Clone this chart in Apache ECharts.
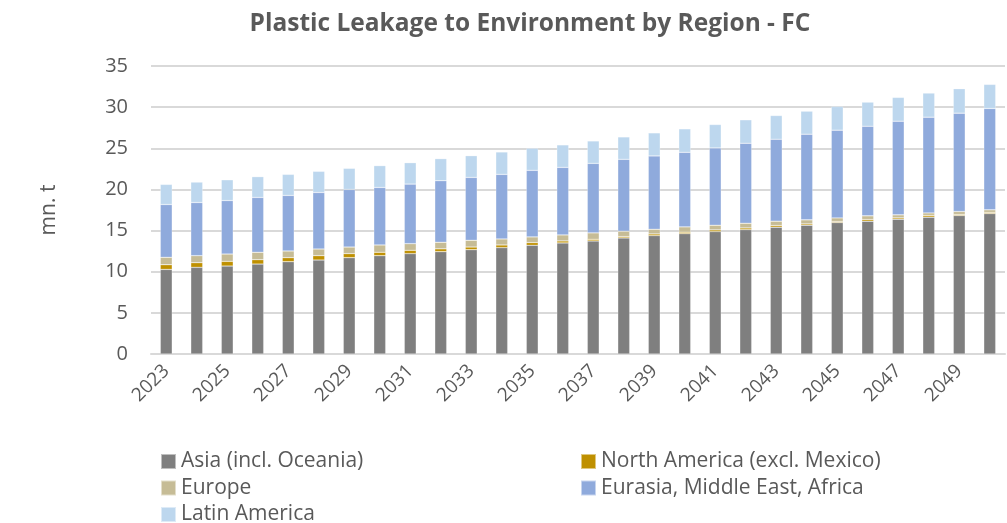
<!DOCTYPE html>
<html><head><meta charset="utf-8">
<script src="https://cdn.jsdelivr.net/npm/echarts@6/dist/echarts.min.js"></script>
<style>html,body{margin:0;padding:0;background:#fff}#c{width:1007px;height:523px}</style>
</head><body><div id="c"></div>
<script>
const years = ['2023','2024','2025','2026','2027','2028','2029','2030','2031','2032','2033','2034','2035','2036','2037','2038','2039','2040','2041','2042','2043','2044','2045','2046','2047','2048','2049','2050'];
const asia = [10.28,10.53,10.69,10.93,11.22,11.42,11.71,11.95,12.2,12.44,12.68,12.93,13.21,13.5,13.74,14.11,14.39,14.63,14.88,15.12,15.41,15.65,15.98,16.14,16.38,16.63,16.83,17.07];
const northAmerica = [0.57,0.57,0.57,0.53,0.49,0.53,0.49,0.41,0.4,0.34,0.32,0.32,0.33,0.24,0.2,0.16,0.2,0.17,0.2,0.2,0.2,0.16,0.12,0.2,0.16,0.2,0.12,0.13];
const europe = [0.9,0.85,0.89,0.9,0.81,0.81,0.8,0.89,0.81,0.8,0.82,0.73,0.69,0.73,0.78,0.65,0.57,0.65,0.57,0.57,0.53,0.49,0.44,0.45,0.37,0.32,0.37,0.32];
const eurasiaMEA = [6.42,6.46,6.5,6.67,6.75,6.87,7.0,6.99,7.24,7.48,7.64,7.85,8.09,8.21,8.45,8.74,8.91,9.06,9.39,9.72,9.96,10.41,10.66,10.89,11.38,11.63,11.95,12.32];
const latinAmerica = [2.44,2.48,2.52,2.52,2.56,2.57,2.56,2.65,2.6,2.68,2.64,2.72,2.68,2.73,2.72,2.72,2.8,2.85,2.85,2.85,2.88,2.8,2.88,2.93,2.89,2.93,2.97,2.92];
const names = ['Asia (incl. Oceania)','North America (excl. Mexico)','Europe','Eurasia, Middle East, Africa','Latin America'];
const colors = ['#7f7f7f','#bf9000','#c6bc96','#8faadc','#bdd7ee'];
const values = [asia, northAmerica, europe, eurasiaMEA, latinAmerica];

const FONT = '"Open Sans", sans-serif';
const TXT = '#595959';
const legendBase = {orient:'vertical', top:446, height:120, itemWidth:15, itemHeight:15, itemGap:5.5, icon:'rect',
  textStyle:{fontFamily:FONT, fontSize:21, color:TXT}};
const chart = echarts.init(document.getElementById('c'), null, {renderer:'canvas'});
chart.setOption({
  animation:false,
  color: colors,
  title:{text:'Plastic Leakage to Environment by Region - FC', left:525, textAlign:'center', top:7,
    textStyle:{fontFamily:FONT, fontWeight:'bold', fontSize:24.5, color:TXT}},
  grid:{left:151, right:2, top:66, bottom:169, containLabel:false},
  legend:[
    Object.assign({left:155, data:[names[0],names[2],names[4]]}, legendBase),
    Object.assign({left:575, data:[names[1],names[3]]}, legendBase)
  ],
  xAxis:{type:'category', data:years,
    axisLine:{lineStyle:{color:'#d9d9d9', width:2}}, axisTick:{show:false},
    axisLabel:{interval:1, rotate:45, fontFamily:FONT, fontSize:19, color:TXT, margin:14}},
  yAxis:{type:'value', min:0, max:35, interval:5, name:'mn. t', nameLocation:'middle', nameGap:91, nameRotate:90,
    nameTextStyle:{fontFamily:FONT, fontSize:21, color:TXT},
    axisLabel:{fontFamily:FONT, fontSize:20, color:TXT, margin:23},
    splitLine:{lineStyle:{color:'#d9d9d9', width:2}}},
  series: values.map((v,i)=>({name:names[i], type:'bar', stack:'all', data:v, barWidth:'39%',
    itemStyle:{color:colors[i], borderColor:'rgba(255,255,255,0.5)', borderWidth:0.5}}))
});
</script></body></html>
